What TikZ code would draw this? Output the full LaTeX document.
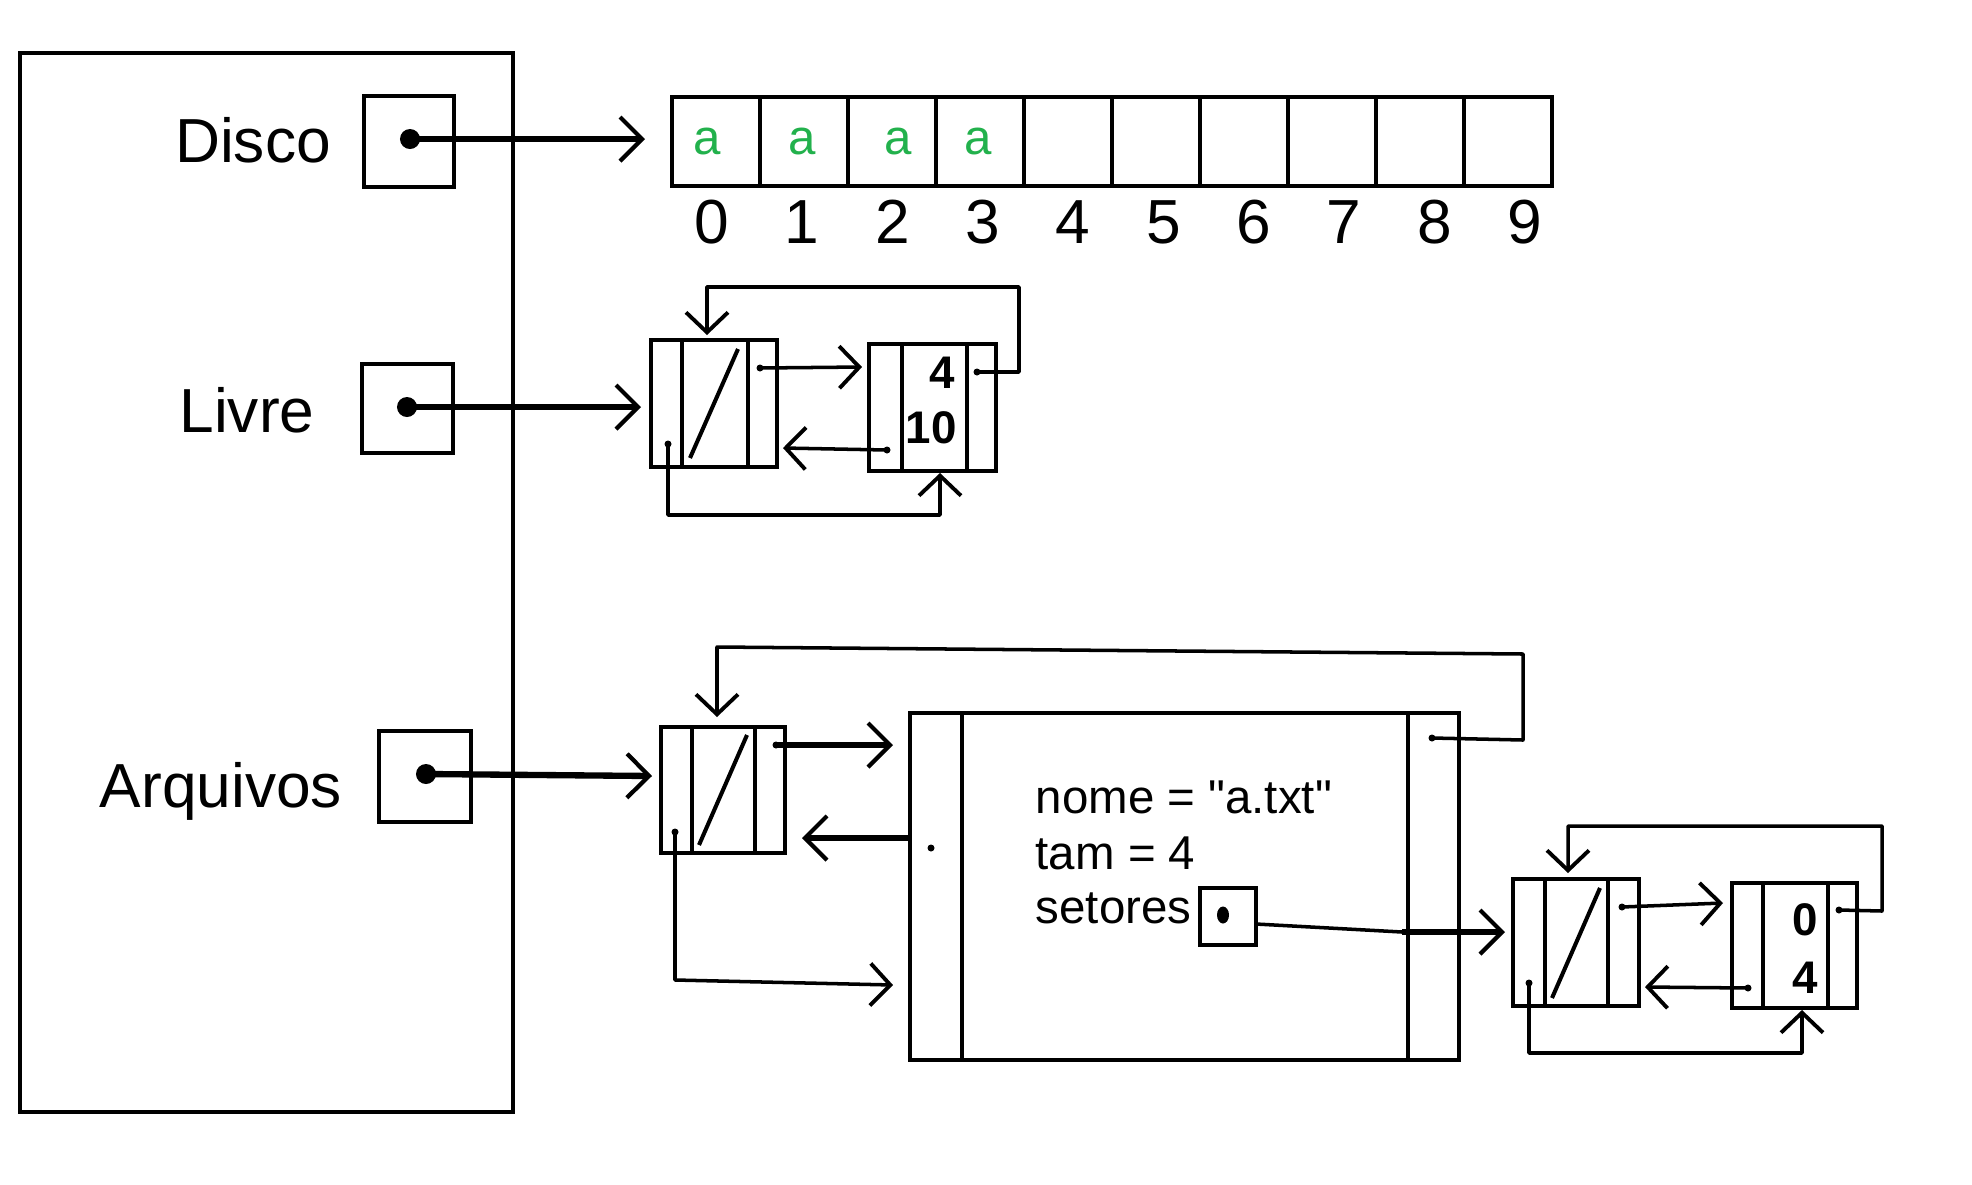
\documentclass[tikz,border=0pt]{standalone}
\usepackage{fontspec}
\setmainfont{Liberation Sans}[Ligatures=TeXOff]
\usetikzlibrary{arrows.meta,fit}
\definecolor{paintgreen}{RGB}{34,177,76}

\tikzset{
  box/.style={draw, line width=1.15pt, inner sep=0pt},
  cellline/.style={line width=1.15pt},
  wire/.style={line width=1pt, line cap=round, line join=round},
  link/.style={wire, -{Straight Barb[length=0.2cm,width=0.42cm,line width=1.1pt]}},
  ptr/.style={line width=1.8pt, -{Straight Barb[length=0.22cm,width=0.44cm,line width=1.2pt]}},
  lab/.style={font=\fontsize{17.7}{20}\selectfont, anchor=base, inner sep=0pt},
  idx/.style={font=\fontsize{17.7}{20}\selectfont, anchor=base, inner sep=0pt},
  cellchar/.style={font=\fontsize{14}{16}\selectfont, text=paintgreen, anchor=base, inner sep=0pt},
  val/.style={font=\fontsize{13}{15}\selectfont\bfseries, anchor=base, inner sep=0pt},
  field/.style={font=\fontsize{13.5}{16}\selectfont, anchor=base west, inner sep=0pt},
}

\begin{document}
\begin{tikzpicture}[x=0.01cm, y=-0.01cm]
\fill[white] (0,0) rectangle (1972,1184);
\useasboundingbox (0,0) rectangle (1972,1184);

% ---- main structure with its three pointers ----
\node[box, line width=1.3pt, fit={(20,53) (513,1112)}] (fs) {};

\node[lab] (tDisco) at (253,162) {Disco};
\node[box, fit={(364,96) (454,187)}] (pDisco) {};
\coordinate (dDisco) at (410,139);
\fill (dDisco) circle[radius=0.1cm];

\node[lab] (tLivre) at (247,432) {Livre};
\node[box, fit={(362,364) (453,453)}] (pLivre) {};
\coordinate (dLivre) at (407,407);
\fill (dLivre) circle[radius=0.1cm];

\node[lab] (tArq) at (221,807) {Arquivos};
\node[box, fit={(379,731) (471,822)}] (pArq) {};
\coordinate (dArq) at (426,774);
\fill (dArq) circle[radius=0.1cm];

% ---- disk sectors ----
\node[box, fit={(672,97) (1552,186)}] (disk) {};
\foreach \i in {1,...,9} {
  \draw[cellline] (672+88*\i,97) -- (672+88*\i,186);
}
\foreach \x in {707,802,898,978} {
  \node[cellchar] at (\x,154) {a};
}
\foreach \d in {0,...,9} {
  \node[idx] at (712+90.3*\d,243) {\d};
}
\coordinate (tipDisco) at (645,139);
\draw[ptr] (dDisco) -- (tipDisco);

% ---- free list ----
\node[box, fit={(651,340) (777,467)}] (L1) {};
\draw[cellline] (682,340) -- (682,467) (748,340) -- (748,467);
\draw[cellline] (738,349) -- (690,458);

\node[box, fit={(869,344) (996,471)}] (L2) {};
\draw[cellline] (902,344) -- (902,471) (967,344) -- (967,471);
\node[val] at (942,388) {4};
\node[val] at (931,443) {10};

\coordinate (tipLivre) at (641,407);
\draw[ptr] (dLivre) -- (tipLivre);

\coordinate (L1r) at (760,368);
\coordinate (L1l) at (668,444);
\coordinate (L2r) at (977,372);
\coordinate (L2l) at (887,450);
\foreach \p in {L1r,L1l,L2r,L2l} \fill (\p) circle[radius=0.035cm];
\coordinate (L2in) at (862,367);
\coordinate (L1back) at (783,448);
\coordinate (L1top) at (707,335);
\coordinate (L2bot) at (940,473);
\draw[link] (L1r) -- (L2in);
\draw[link] (L2l) -- (L1back);
\draw[link] (L2r) -- (1019,372) -- (1019,287) -- (707,287) -- (L1top);
\draw[link] (L1l) -- (668,515) -- (940,515) -- (L2bot);

% ---- file list ----
\node[box, fit={(661,727) (785,853)}] (A1) {};
\draw[cellline] (692,727) -- (692,853) (755,727) -- (755,853);
\draw[cellline] (747,735) -- (699,845);

\node[box, fit={(910,713) (1459,1060)}] (B) {};
\draw[cellline] (962,713) -- (962,1060) (1408,713) -- (1408,1060);
\node[field] at (1035,813) {nome = "a.txt"};
\node[field] at (1035,869) {tam = 4};
\node[field] (tSet) at (1035,923) {setores};
\node[box, fit={(1200,888) (1256,945)}] (pSet) {};
\coordinate (dSet) at (1223,915);
\fill (dSet) ellipse[x radius=0.06cm, y radius=0.085cm];

\coordinate (tipArq) at (652,776);
\draw[ptr] (dArq) -- (tipArq);

\coordinate (A1r) at (776,745);
\coordinate (A1l) at (675,832);
\coordinate (Bl) at (931,848);
\coordinate (Br) at (1432,738);
\foreach \p in {A1r,A1l,Bl,Br} \fill (\p) circle[radius=0.035cm];
\coordinate (Bin) at (893,745);
\coordinate (Bedge) at (910,838);
\coordinate (A1back) at (802,838);
\coordinate (A1top) at (717,717);
\coordinate (Bbot) at (893,985);
\draw[ptr] (A1r) -- (Bin);
\draw[ptr] (Bedge) -- (A1back);
\draw[link] (Br) -- (1523,740) -- (1523,654) -- (717,647) -- (A1top);
\draw[link] (A1l) -- (675,980) -- (Bbot);

% ---- sector list of the file ----
\node[box, fit={(1513,879) (1639,1006)}] (A2) {};
\draw[cellline] (1545,879) -- (1545,1006) (1608,879) -- (1608,1006);
\draw[cellline] (1600,888) -- (1552,998);

\node[box, fit={(1732,883) (1857,1008)}] (A3) {};
\draw[cellline] (1763,883) -- (1763,1008) (1828,883) -- (1828,1008);
\node[val] at (1805,935) {0};
\node[val] at (1805,993) {4};

\coordinate (setMid) at (1402,932);
\coordinate (tipSet) at (1505,932);
\draw[wire] (1256,924) -- (setMid);
\draw[ptr] (setMid) -- (tipSet);

\coordinate (A2r) at (1622,907);
\coordinate (A2l) at (1529,983);
\coordinate (A3r) at (1839,910);
\coordinate (A3l) at (1748,988);
\foreach \p in {A2r,A2l,A3r,A3l} \fill (\p) circle[radius=0.035cm];
\coordinate (A3in) at (1723,903);
\coordinate (A2back) at (1645,987);
\coordinate (A2top) at (1568,873);
\coordinate (A3bot) at (1802,1010);
\draw[link] (A2r) -- (A3in);
\draw[link] (A3l) -- (A2back);
\draw[link] (A3r) -- (1882,911) -- (1882,826) -- (1568,826) -- (A2top);
\draw[link] (A2l) -- (1529,1053) -- (1802,1053) -- (A3bot);
\end{tikzpicture}
\end{document}
